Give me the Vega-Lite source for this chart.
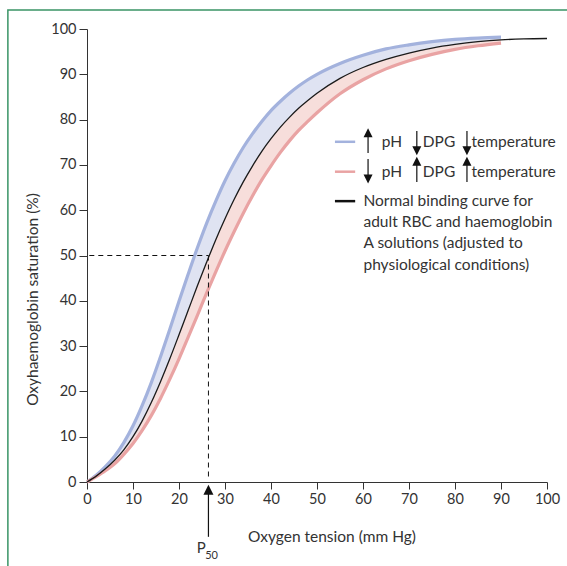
{
  "$schema": "https://vega.github.io/schema/vega-lite/v6.json",
  "width": 460,
  "height": 453,
  "autosize": {"type": "none"},
  "padding": {"left": 87, "top": 29, "right": 20, "bottom": 84},
  "background": "white",
  "config": {
    "view": {"stroke": null},
    "font": "Lato",
    "axis": {"labelFont": "Lato", "titleFont": "Lato", "labelColor": "#333", "titleColor": "#333", "domainColor": "#333", "tickColor": "#333", "grid": false, "labelFontSize": 14.5, "titleFontSize": 15.5, "titleFontWeight": "normal", "labelFlush": false}
  },
  "datasets": {
    "curves": [
      {"P": 0, "blue": 0, "black": 0, "red": 0},
      {"P": 2, "blue": 1.5, "black": 1.3, "red": 1.2},
      {"P": 4, "blue": 3.4, "black": 2.9, "red": 2.5},
      {"P": 6, "blue": 5.7, "black": 4.8, "red": 4.0},
      {"P": 8, "blue": 8.7, "black": 7.1, "red": 6.1},
      {"P": 10, "blue": 12.4, "black": 10.0, "red": 8.5},
      {"P": 12, "blue": 16.9, "black": 13.5, "red": 11.4},
      {"P": 14, "blue": 22.0, "black": 17.6, "red": 14.7},
      {"P": 16, "blue": 27.7, "black": 22.2, "red": 18.5},
      {"P": 18, "blue": 33.7, "black": 27.2, "red": 22.7},
      {"P": 20, "blue": 39.9, "black": 32.5, "red": 27.2},
      {"P": 22, "blue": 45.9, "black": 37.9, "red": 32.0},
      {"P": 24, "blue": 51.7, "black": 43.3, "red": 36.8},
      {"P": 26, "blue": 57.1, "black": 48.5, "red": 41.7},
      {"P": 28, "blue": 62.0, "black": 53.5, "red": 46.4},
      {"P": 30, "blue": 66.5, "black": 58.1, "red": 51.0},
      {"P": 32, "blue": 70.4, "black": 62.4, "red": 55.3},
      {"P": 34, "blue": 73.9, "black": 66.3, "red": 59.4},
      {"P": 36, "blue": 76.9, "black": 69.8, "red": 63.2},
      {"P": 38, "blue": 79.6, "black": 73.0, "red": 66.7},
      {"P": 40, "blue": 82.0, "black": 75.8, "red": 69.8},
      {"P": 42, "blue": 84.0, "black": 78.3, "red": 72.7},
      {"P": 44, "blue": 85.8, "black": 80.5, "red": 75.3},
      {"P": 46, "blue": 87.4, "black": 82.5, "red": 77.6},
      {"P": 48, "blue": 88.8, "black": 84.2, "red": 79.6},
      {"P": 50, "blue": 90.0, "black": 85.8, "red": 81.5},
      {"P": 55, "blue": 92.4, "black": 89.1, "red": 85.7},
      {"P": 60, "blue": 94.2, "black": 91.5, "red": 88.8},
      {"P": 65, "blue": 95.6, "black": 93.3, "red": 91.2},
      {"P": 70, "blue": 96.5, "black": 94.7, "red": 93.0},
      {"P": 75, "blue": 97.2, "black": 95.8, "red": 94.4},
      {"P": 80, "blue": 97.7, "black": 96.6, "red": 95.5},
      {"P": 85, "blue": 98.0, "black": 97.2, "red": 96.3},
      {"P": 90, "blue": 98.2, "black": 97.6, "red": 96.9},
      {"P": 95, "blue": null, "black": 97.8, "red": null},
      {"P": 100, "blue": null, "black": 97.9, "red": null}
    ],
    "legendText": [
      {"x": 64.1, "y": 75.1, "t": "pH"},
      {"x": 73.0, "y": 75.1, "t": "DPG"},
      {"x": 83.6, "y": 75.1, "t": "temperature"},
      {"x": 64.1, "y": 68.5, "t": "pH"},
      {"x": 73.0, "y": 68.5, "t": "DPG"},
      {"x": 83.6, "y": 68.5, "t": "temperature"},
      {"x": 60.1, "y": 62.0, "t": "Normal binding curve for"},
      {"x": 60.1, "y": 57.4, "t": "adult RBC and haemoglobin"},
      {"x": 60.1, "y": 52.7, "t": "A solutions (adjusted to"},
      {"x": 60.1, "y": 47.9, "t": "physiological conditions)"}
    ],
    "legendLines": [
      {"x1": 53.9, "x2": 58.3, "y": 75.1, "c": "blue"},
      {"x1": 53.9, "x2": 58.3, "y": 68.5, "c": "red"},
      {"x1": 53.9, "x2": 58.3, "y": 62.0, "c": "black"}
    ],
    "arrows": [
      {"x": 61.1, "lo": 72.6, "hi": 77.0, "hy": 77.1, "dir": "up", "s": 81},
      {"x": 71.7, "lo": 73.1, "hi": 77.5, "hy": 73.1, "dir": "down", "s": 81},
      {"x": 82.6, "lo": 73.1, "hi": 77.5, "hy": 73.1, "dir": "down", "s": 81},
      {"x": 61.1, "lo": 66.5, "hi": 71.3, "hy": 66.9, "dir": "down", "s": 81},
      {"x": 71.7, "lo": 66.2, "hi": 70.6, "hy": 70.8, "dir": "up", "s": 81},
      {"x": 82.6, "lo": 66.2, "hi": 70.6, "hy": 70.8, "dir": "up", "s": 81},
      {"x": 26.4, "lo": -12.1, "hi": -2.0, "hy": -1.7, "dir": "up", "s": 100}
    ]
  },
  "encoding": {
    "x": {"type": "quantitative", "scale": {"domain": [0, 100], "nice": false}},
    "y": {"type": "quantitative", "scale": {"domain": [0, 100], "nice": false}}
  },
  "layer": [
    {
      "data": {"values": [{}]},
      "mark": {"type": "rect", "fill": "transparent", "stroke": "#3a9466", "strokeWidth": 1.5},
      "encoding": {
        "x": {"datum": -17.2},
        "x2": {"datum": 106},
        "y": {"datum": 104.2},
        "y2": {"datum": -20}
      }
    },
    {
      "data": {"name": "curves"},
      "transform": [{"filter": "datum.blue != null"}],
      "mark": {"type": "area", "color": "#dfe3f2", "interpolate": "monotone"},
      "encoding": {
        "x": {"field": "P", "type": "quantitative", "scale": {"domain": [0, 100], "nice": false},
          "axis": {"values": [0,10,20,30,40,50,60,70,80,90,100], "title": "Oxygen tension (mm Hg)", "tickSize": 7, "labelPadding": 3, "titleX": 244.5, "titleY": 59, "titleBaseline": "alphabetic", "titleAlign": "center"}},
        "y": {"field": "blue", "type": "quantitative", "scale": {"domain": [0, 100], "nice": false},
          "axis": {"values": [0,10,20,30,40,50,60,70,80,90,100], "title": "Oxyhaemoglobin saturation (%)", "tickSize": 8, "labelPadding": 3, "titleX": -55, "titleY": 270, "titleAngle": 270, "titleBaseline": "middle", "titleAlign": "center"}},
        "y2": {"field": "black"}
      }
    },
    {
      "data": {"name": "curves"},
      "transform": [{"filter": "datum.red != null"}],
      "mark": {"type": "area", "color": "#f7dedb", "interpolate": "monotone"},
      "encoding": {
        "x": {"field": "P", "type": "quantitative"},
        "y": {"field": "black", "type": "quantitative"},
        "y2": {"field": "red"}
      }
    },
    {
      "data": {"name": "curves"},
      "transform": [{"filter": "datum.blue != null"}],
      "mark": {"type": "line", "color": "#a3b2dd", "strokeWidth": 3.2, "interpolate": "monotone"},
      "encoding": {
        "x": {"field": "P", "type": "quantitative"},
        "y": {"field": "blue", "type": "quantitative"}
      }
    },
    {
      "data": {"name": "curves"},
      "transform": [{"filter": "datum.red != null"}],
      "mark": {"type": "line", "color": "#e9a3a3", "strokeWidth": 3.2, "interpolate": "monotone"},
      "encoding": {
        "x": {"field": "P", "type": "quantitative"},
        "y": {"field": "red", "type": "quantitative"}
      }
    },
    {
      "data": {"name": "curves"},
      "mark": {"type": "line", "color": "#1a1a1a", "strokeWidth": 1.3, "interpolate": "monotone"},
      "encoding": {
        "x": {"field": "P", "type": "quantitative"},
        "y": {"field": "black", "type": "quantitative"}
      }
    },
    {
      "data": {"values": [{}]},
      "mark": {"type": "rule", "color": "#111", "strokeWidth": 1, "strokeDash": [5, 4]},
      "encoding": {
        "x": {"datum": 0.5},
        "x2": {"datum": 26.4},
        "y": {"datum": 50}
      }
    },
    {
      "data": {"values": [{}]},
      "mark": {"type": "rule", "color": "#111", "strokeWidth": 1, "strokeDash": [5, 4]},
      "encoding": {
        "x": {"datum": 26.4},
        "y": {"datum": 50},
        "y2": {"datum": 1}
      }
    },
    {
      "data": {"name": "legendLines"},
      "mark": {"type": "rule", "strokeWidth": 2.5},
      "encoding": {
        "x": {"field": "x1", "type": "quantitative"},
        "x2": {"field": "x2"},
        "y": {"field": "y", "type": "quantitative"},
        "color": {"field": "c", "type": "nominal", "scale": {"domain": ["blue", "red", "black"], "range": ["#a3b2dd", "#e9a3a3", "#111"]}, "legend": null}
      }
    },
    {
      "data": {"name": "arrows"},
      "mark": {"type": "rule", "color": "#111", "strokeWidth": 1.2},
      "encoding": {
        "x": {"field": "x", "type": "quantitative"},
        "y": {"field": "lo", "type": "quantitative"},
        "y2": {"field": "hi"}
      }
    },
    {
      "data": {"name": "arrows"},
      "mark": {"type": "point", "filled": true, "color": "#111", "opacity": 1, "strokeWidth": 0},
      "encoding": {
        "x": {"field": "x", "type": "quantitative"},
        "y": {"field": "hy", "type": "quantitative"},
        "size": {"field": "s", "type": "quantitative", "scale": null},
        "shape": {"field": "dir", "type": "nominal", "scale": {"domain": ["up", "down"], "range": ["M-1,1L0,-1L1,1Z", "M-1,-1L0,1L1,-1Z"]}, "legend": null}
      }
    },
    {
      "data": {"name": "legendText"},
      "mark": {"type": "text", "align": "left", "baseline": "middle", "font": "Lato", "fontSize": 15.5, "color": "#333"},
      "encoding": {
        "x": {"field": "x", "type": "quantitative"},
        "y": {"field": "y", "type": "quantitative"},
        "text": {"field": "t"}
      }
    },
    {
      "data": {"values": [{}]},
      "mark": {"type": "text", "align": "left", "baseline": "alphabetic", "font": "Lato", "fontSize": 15, "color": "#333"},
      "encoding": {
        "x": {"datum": 23.85},
        "y": {"datum": -15.7},
        "text": {"value": "P"}
      }
    },
    {
      "data": {"values": [{}]},
      "mark": {"type": "text", "align": "left", "baseline": "alphabetic", "font": "Lato", "fontSize": 11, "color": "#333"},
      "encoding": {
        "x": {"datum": 25.7},
        "y": {"datum": -17.0},
        "text": {"value": "50"}
      }
    }
  ]
}
